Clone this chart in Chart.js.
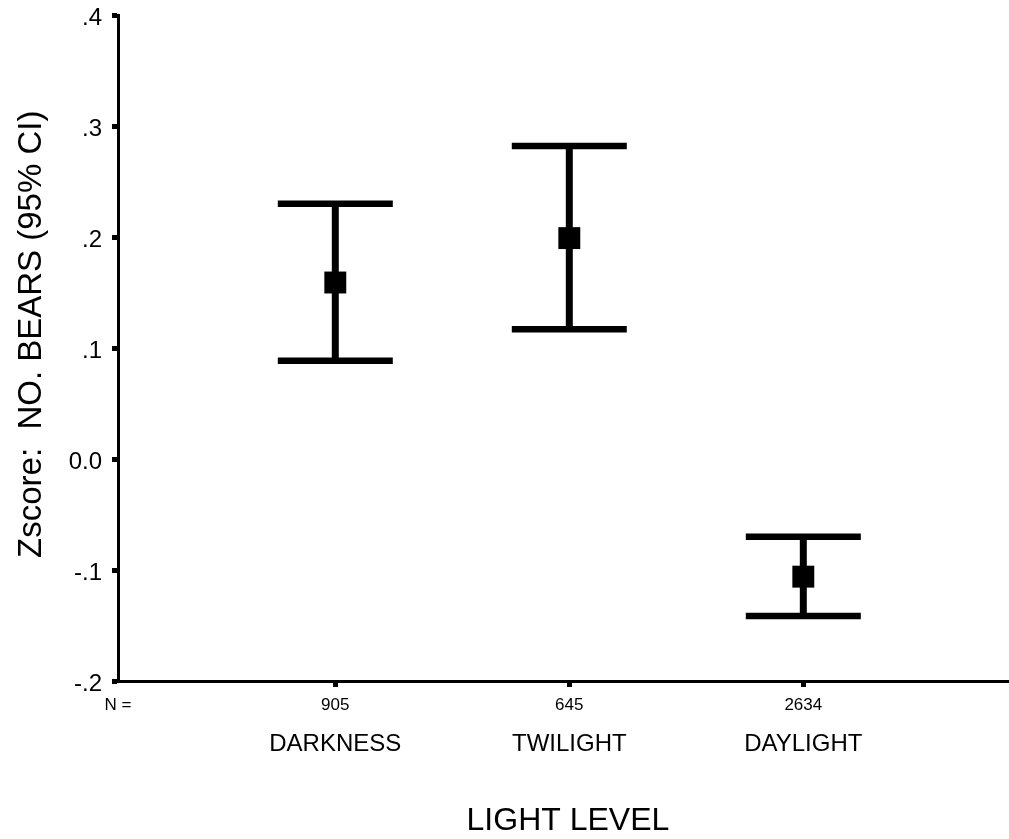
<!DOCTYPE html>
<html>
<head>
<meta charset="utf-8">
<script src="https://cdn.jsdelivr.net/npm/chart.js@4/dist/chart.umd.min.js"></script>
<style>
  html, body { margin: 0; padding: 0; background: #fff; }
  canvas { display: block; }
</style>
</head>
<body>
<canvas id="chart" width="1009" height="839"></canvas>
<script>
// data
var categories = ['DARKNESS', 'TWILIGHT', 'DAYLIGHT'];
var nCounts = [905, 645, 2634];
var means = [0.159, 0.199, -0.106];
var lowerCI = [0.0885, 0.117, -0.1415];
var upperCI = [0.230, 0.282, -0.070];
var yTicks = [-0.2, -0.1, 0, 0.1, 0.2, 0.3, 0.4];

var FONT = "'Liberation Sans', Arial, Helvetica, sans-serif";
var xMin = 0.0714, xMax = 3.879;

function fmtY(v) {
    var r = Math.round(v * 10);
    if (r === 0) return '0.0';
    return (r < 0 ? '-' : '') + '.' + Math.abs(r);
}

var datasets = [];
// mean markers
datasets.push({
    data: means.map(function(m, i) { return {x: i + 1, y: m}; }),
    pointStyle: 'rect',
    pointRadius: 15.5,
    pointBackgroundColor: '#000',
    pointBorderWidth: 0,
    showLine: false
});
// caps of the CI
datasets.push({
    data: upperCI.map(function(u, i) { return {x: i + 1, y: u}; })
        .concat(lowerCI.map(function(l, i) { return {x: i + 1, y: l}; })),
    pointStyle: 'line',
    pointRadius: 57.5,
    pointBorderColor: '#000',
    pointBorderWidth: 6.5,
    showLine: false
});
// whiskers
categories.forEach(function(c, i) {
    datasets.push({
        data: [{x: i + 1, y: lowerCI[i]}, {x: i + 1, y: upperCI[i]}],
        showLine: true,
        borderColor: '#000',
        borderWidth: 7,
        pointRadius: 0
    });
});

new Chart(document.getElementById('chart'), {
    type: 'scatter',
    data: {datasets: datasets},
    options: {
        responsive: false,
        animation: false,
        layout: {autoPadding: false, padding: {top: 15, right: 0, bottom: 0, left: 0}},
        plugins: {legend: {display: false}, tooltip: {enabled: false}},
        scales: {
            x: {
                type: 'linear',
                position: 'bottom',
                min: xMin,
                max: xMax,
                weight: 0,
                afterBuildTicks: function(s) {
                    s.ticks = [{value: xMin}].concat(categories.map(function(c, i) { return {value: i + 1}; }));
                },
                afterFit: function(s) { s.height = 36; s.paddingLeft = 0; s.paddingRight = 0; },
                grid: {
                    drawOnChartArea: false,
                    tickLength: 6,
                    tickWidth: 5,
                    tickColor: function(ctx) { return ctx.index === 0 ? 'rgba(0,0,0,0)' : '#000'; }
                },
                border: {color: '#000', width: 3},
                ticks: {
                    color: '#000',
                    padding: 8,
                    maxRotation: 0,
                    autoSkip: false,
                    font: {family: FONT, size: 17},
                    callback: function(v, idx) { return idx === 0 ? 'N =' : String(nCounts[idx - 1]); }
                }
            },
            x2: {
                type: 'linear',
                position: 'bottom',
                min: xMin,
                max: xMax,
                weight: 1,
                afterBuildTicks: function(s) {
                    s.ticks = categories.map(function(c, i) { return {value: i + 1}; });
                },
                afterFit: function(s) { s.height = 122; s.paddingLeft = 0; s.paddingRight = 0; },
                grid: {display: false, drawTicks: false},
                border: {display: false},
                ticks: {
                    color: '#000',
                    padding: 13,
                    maxRotation: 0,
                    autoSkip: false,
                    font: {family: FONT, size: 24},
                    callback: function(v, idx) { return categories[idx]; }
                },
                title: {
                    display: true,
                    text: ' LIGHT LEVEL',
                    color: '#000',
                    font: {family: FONT, size: 32, lineHeight: 1.125},
                    padding: {top: 0, bottom: 0}
                }
            },
            y: {
                type: 'linear',
                min: -0.2,
                max: 0.4,
                afterBuildTicks: function(s) {
                    s.ticks = yTicks.map(function(v) { return {value: v}; });
                },
                afterFit: function(s) { s.width = 118; s.paddingTop = 0; s.paddingBottom = 0; },
                grid: {
                    drawOnChartArea: false,
                    tickLength: 6,
                    tickWidth: 5,
                    tickColor: '#000'
                },
                border: {color: '#000', width: 3},
                ticks: {
                    color: '#000',
                    padding: 10,
                    labelOffset: 3,
                    font: {family: FONT, size: 24},
                    callback: function(v) { return fmtY(v); }
                },
                title: {
                    display: true,
                    text: '   Zscore:  NO. BEARS (95% CI)',
                    color: '#000',
                    font: {family: FONT, size: 33},
                    padding: {top: 12, bottom: 0}
                }
            }
        }
    }
});
</script>
</body>
</html>
